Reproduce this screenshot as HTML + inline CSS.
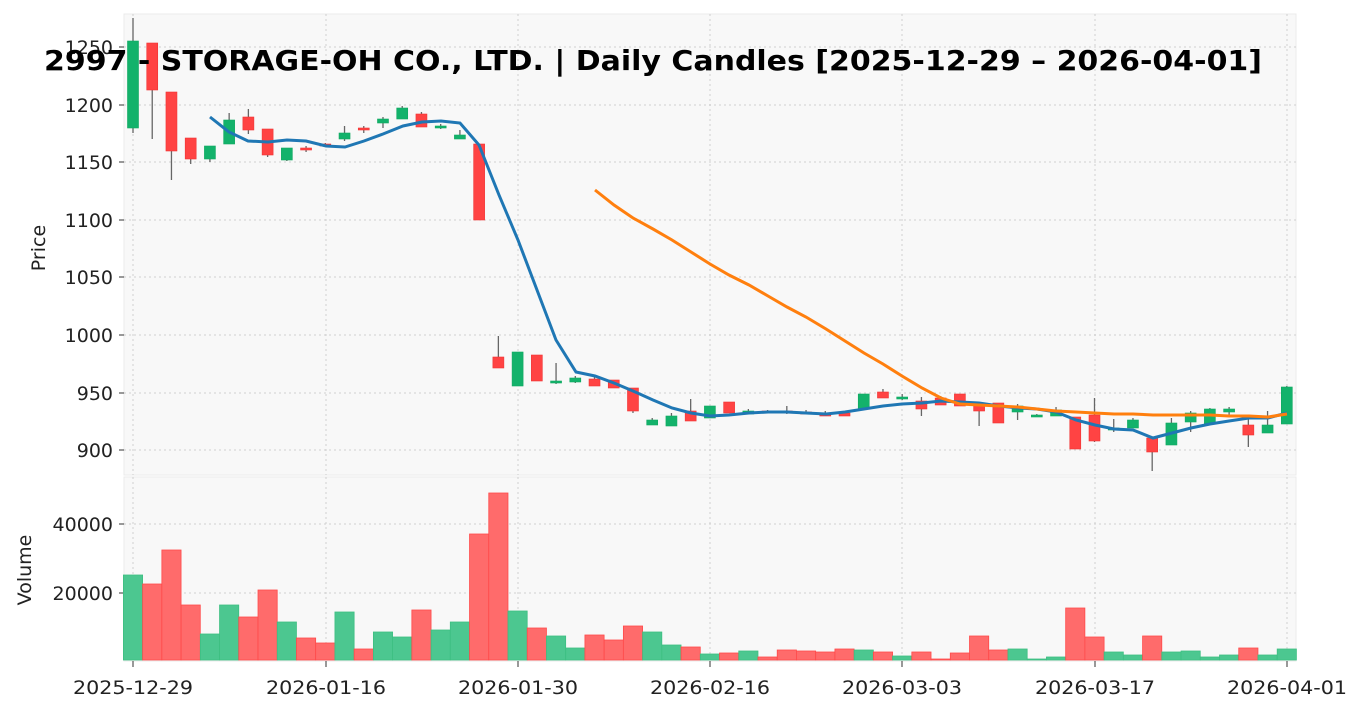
<!DOCTYPE html>
<html><head><meta charset="utf-8"><style>
html,body{margin:0;padding:0;background:#fff;}
svg{display:block;font-family:"DejaVu Sans","Liberation Sans",sans-serif;}
</style></head><body>
<svg id="s" width="1363" height="711" viewBox="0 0 1363 711" xmlns="http://www.w3.org/2000/svg"></svg>
<script>
const s=document.getElementById('s');let h='';
const X=i=>133+19.23*i;
h+='<rect x="124" y="14" width="1172" height="461" fill="#f8f8f8" stroke="#ebebeb"/>';
h+='<rect x="124" y="477" width="1172" height="184" fill="#f8f8f8" stroke="#ebebeb"/>';
const gs='stroke="#cfcfcf" stroke-width="1" stroke-dasharray="2,3"';
[133,326,518,710,902,1095,1287].forEach(x=>{h+=`<line x1="${x}" y1="14" x2="${x}" y2="475" ${gs}/><line x1="${x}" y1="477" x2="${x}" y2="661" ${gs}/>`;});
const pt=[[1250,47],[1200,105],[1150,162],[1100,220],[1050,277],[1000,335],[950,393],[900,450]];
pt.forEach(([v,y])=>{h+=`<line x1="124" y1="${y}" x2="1296" y2="${y}" ${gs}/><line x1="119" y1="${y}" x2="124" y2="${y}" stroke="#333"/><text x="113" y="${y+7}" font-size="19" text-anchor="end" fill="#222">${v}</text>`;});
[[40000,524],[20000,593]].forEach(([v,y])=>{h+=`<line x1="124" y1="${y}" x2="1296" y2="${y}" ${gs}/><line x1="119" y1="${y}" x2="124" y2="${y}" stroke="#333"/><text x="113" y="${y+7}" font-size="19" text-anchor="end" fill="#222">${v}</text>`;});
const C=[[128,41,18,133],[43,90,43,139],[92,151,92,180],[138,159,138,164],[159,146,146,162],[144,120,113,144],[117,130,109,134],[129,155,129,157],[160,148,148,161],[148,150,146,152],[144,146,143,147],[139,133,126,141],[128,129,126,133],[123,119,117,128],[119,108,106,119],[114,127,112,127],[128,126,124,129],[139,135,130,139],[144,220,144,220],[357,368,336,368],[386,352,352,386],[355,381,355,381],[383,381,363,384],[382,378,376,383],[379,386,376,386],[380,388,380,388],[388,411,388,413],[425,420,418,425],[426,416,413,426],[411,421,399,421],[418,406,406,418],[402,413,402,413],[414,411,409,414],[411,412,410,413],[411,413,406,414],[412,413,410,414],[413,416,411,416],[413,416,413,416],[409,394,394,409],[392,398,389,398],[398,397,394,400],[401,409,397,416],[398,405,396,405],[394,406,394,406],[403,411,403,426],[403,423,403,423],[412,406,404,420],[416,415,414,417],[416,410,407,416],[417,449,417,449],[415,441,398,442],[430,428,419,432],[428,420,418,428],[438,452,438,471],[445,423,418,445],[422,413,411,432],[424,409,408,425],[412,409,407,416],[425,435,418,447],[433,425,411,433],[424,387,386,424]];
const V=[575,584,550,605,634,605,617,590,622,638,643,612,649,632,637,610,630,622,534,493,611,628,636,648,635,640,626,632,645,647,654,653,651,657,650,651,652,649,650,652,656,652,659,653,636,650,649,659,657,608,637,652,655,636,652,651,657,655,648,655,649];
C.forEach((c,i)=>{const x=X(i);const up=c[1]<c[0];const col=up?'#13b26b':'#ff4343';
h+=`<line x1="${x}" y1="${c[2]}" x2="${x}" y2="${c[3]}" stroke="#666" stroke-width="1.3"/>`;
const t=Math.min(c[0],c[1]),b=Math.max(c[0],c[1]);h+=`<rect x="${x-5.5}" y="${t}" width="11" height="${Math.max(b-t,2)}" fill="${col}" stroke="${up?'#0fa860':'#f03535'}" stroke-width="0.6"/>`;
const vc=up?'#4cc790':'#ff6b6b';h+=`<rect x="${x-9.6}" y="${V[i]}" width="19.2" height="${660-V[i]}" fill="${vc}" stroke="${up?'#3dbf82':'#ff4a4a'}" stroke-width="0.8"/>`;});
const B=[[210,117],[229,132],[248,141],[268,142],[287,140],[306,141],[326,146],[345,147],[364,141],[383,134],[403,126],[422,122],[441,121],[460,123],[479,145],[499,195],[518,240],[537,290],[556,340],[576,372],[595,376],[614,383],[633,391],[653,400],[672,408],[691,413],[710,416],[729,415],[749,413],[768,412],[787,412],[806,413],[826,414],[845,412],[864,409],[883,406],[902,404],[922,403],[941,401],[960,402],[979,403],[999,406],[1018,408],[1037,409],[1056,412],[1076,420],[1095,425],[1114,429],[1133,430],[1153,438],[1172,433],[1191,428],[1210,424],[1229,421],[1249,418],[1268,418],[1287,413]];
const O=[[595,190],[614,205],[633,218],[653,229],[672,240],[691,252],[710,264],[729,275],[749,285],[768,296],[787,307],[806,317],[826,329],[845,341],[864,353],[883,364],[902,376],[922,388],[941,398],[960,404],[979,405],[999,406],[1018,407],[1037,409],[1056,411],[1076,412],[1095,413],[1114,414],[1133,414],[1153,415],[1172,415],[1191,415],[1210,415],[1229,416],[1249,416],[1268,417],[1287,414]];
h+=`<polyline points="${B.join(' ')}" fill="none" stroke="#1f77b4" stroke-width="3"/>`;
h+=`<polyline points="${O.join(' ')}" fill="none" stroke="#ff7f0e" stroke-width="3"/>`;
[['2025-12-29',133],['2026-01-16',326],['2026-01-30',518],['2026-02-16',710],['2026-03-03',902],['2026-03-17',1095],['2026-04-01',1287]].forEach(([t,x])=>{h+=`<line x1="${x}" y1="661" x2="${x}" y2="667" stroke="#333"/><text x="${x}" y="694" font-size="19" textLength="120" lengthAdjust="spacingAndGlyphs" text-anchor="middle" fill="#222">${t}</text>`;});
h+=`<text x="45" y="248" font-size="19" text-anchor="middle" fill="#222" transform="rotate(-90 45 248)">Price</text>`;
h+=`<text x="31" y="570" font-size="19" text-anchor="middle" fill="#222" transform="rotate(-90 31 570)">Volume</text>`;
h+=`<text x="44" y="70" font-size="28" font-weight="bold" textLength="1218" lengthAdjust="spacingAndGlyphs" fill="#000">2997 - STORAGE-OH CO., LTD. | Daily Candles [2025-12-29 – 2026-04-01]</text>`;
s.innerHTML=h;
</script>
</body></html>
